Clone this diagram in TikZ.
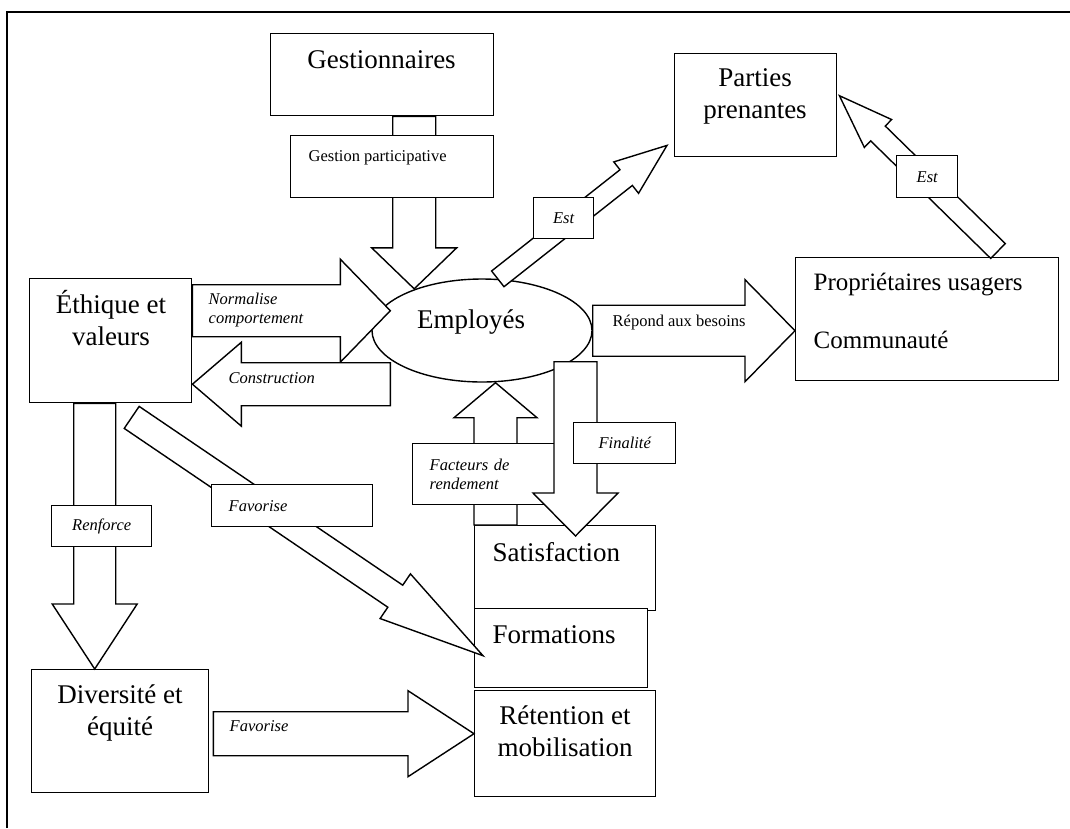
\documentclass[tikz,border=0pt]{standalone}
\usepackage{fontspec}
\setmainfont{Liberation Serif}
\usetikzlibrary{calc,shapes.geometric}

\newcommand{\bigfont}{\fontsize{27}{32}\selectfont}
\newcommand{\propfont}{\fontsize{25}{30}\selectfont}
\newcommand{\tagfont}{\fontsize{16.5}{19}\selectfont}

% block arrow: tail, tip, half shaft, half head, head length
\newcommand{\fatarrow}[5]{%
  \coordinate (tip-base) at ($(#2)!#5pt!(#1)$);
  \draw[body] ($(#1)!#3pt!90:(#2)$) -- ($(tip-base)!#3pt!90:(#2)$) -- ($(tip-base)!#4pt!90:(#2)$) -- (#2)
    -- ($(tip-base)!#4pt!-90:(#2)$) -- ($(tip-base)!#3pt!-90:(#2)$) -- ($(#1)!#3pt!-90:(#2)$) -- cycle;}

\begin{document}
\begin{tikzpicture}[x=1pt,y=-1pt,line width=1.4pt,
    box/.style={draw,fill=white,inner sep=0pt,anchor=north west},
    body/.style={draw,fill=white,line join=miter},
    txt/.style={font=\bigfont,inner sep=0pt,align=center,anchor=base},
    txtl/.style={font=\bigfont,inner sep=0pt,anchor=base west},
    tag/.style={box,font=\tagfont\itshape,align=center},
    tagl/.style={box,font=\tagfont\itshape,align=left,inner xsep=17pt},
    note/.style={font=\tagfont\itshape,inner sep=0pt,align=left,anchor=base west}]

\useasboundingbox (0,0) rectangle (1070,828);
\draw[line width=1.8pt] (7,828) -- (7,12) -- (1070,12);

% main boxes (two-line texts sit on their last baseline)
\node[box,minimum width=223pt,minimum height=82pt] (gest) at (270,33) {};
\node[txt] (gest-t) at (381.5,68) {Gestionnaires};
\node[box,minimum width=162pt,minimum height=103pt] (parties) at (674,53) {};
\node[txt] (parties-t) at (755,118) {Parties\\prenantes};
\node[box,minimum width=162pt,minimum height=124pt] (ethique) at (29,278) {};
\node[txt] (ethique-t) at (111,345) {Éthique et\\valeurs};
\node[box,minimum width=263pt,minimum height=123pt] (proprio) at (795,257) {};
\node[txtl,font=\propfont] (proprio-t) at (813,290) {Propriétaires usagers};
\node[txtl,font=\propfont] (comm-t) at (813,348) {Communauté};
\node[box,minimum width=177pt,minimum height=123pt] (diversite) at (31,669) {};
\node[txt] (diversite-t) at (120,735) {Diversité et\\équité};
\node[box,minimum width=181pt,minimum height=85pt] (satisf) at (474,525) {};
\node[txtl] (satisf-t) at (492,561) {Satisfaction};
\node[box,minimum width=173pt,minimum height=79pt] (formations) at (474,608) {};
\node[txtl] (formations-t) at (492,643) {Formations};
\node[box,minimum width=181pt,minimum height=106pt] (retention) at (474,690) {};
\node[txt] (retention-t) at (565,756) {Rétention et\\mobilisation};

\node[draw,ellipse,inner sep=0pt,minimum width=220pt,minimum height=103pt] (emp) at (482,330.5) {};
\node[txt] (emp-t) at (471,328) {Employés};

% arrows
\coordinate (g-a) at ($(gest.south)+(32,0)$);
\coordinate (g-b) at (g-a |- emp.148);
\fatarrow{g-a}{g-b}{21.5}{42.5}{41}
\coordinate (n-a) at ($(ethique.east)+(0,-30)$);
\coordinate (n-b) at ($(n-a -| emp.west)+(19,0)$);
\fatarrow{n-a}{n-b}{26}{51.5}{50}
\coordinate (c-a) at ($(ethique.east -| emp.west)+(19,43.5)$);
\coordinate (c-b) at (c-a -| ethique.east);
\fatarrow{c-a}{c-b}{21.5}{42}{49}
\coordinate (e1-a) at (emp.73);
\coordinate (e1-b) at ($(parties.south west)+(-7,-12)$);
\fatarrow{e1-a}{e1-b}{10}{20}{52}
\coordinate (e2-a) at ($(proprio.north west)+(203,-6)$);
\coordinate (e2-b) at ($(parties.east)+(2,-9.5)$);
\fatarrow{e2-a}{e2-b}{10.4}{19.5}{54}
\coordinate (r-b) at ($(proprio.west)+(0,11.5)$);
\coordinate (r-a) at (r-b -| emp.east);
\fatarrow{r-a}{r-b}{25.5}{51}{50}
\coordinate (rf-a) at ($(ethique.south)+(-16,0)$);
\coordinate (rf-b) at (rf-a |- diversite.north);
\fatarrow{rf-a}{rf-b}{21}{42.5}{65}
\coordinate (fd-a) at ($(ethique.south)+(21,14)$);
\coordinate (fd-b) at ($(formations.west)+(9,7.5)$);
\fatarrow{fd-a}{fd-b}{13.3}{27}{106}
\coordinate (f2-a) at ($(diversite.east)+(4,2.5)$);
\coordinate (f2-b) at (f2-a -| retention.west);
\fatarrow{f2-a}{f2-b}{22}{43}{66}
\coordinate (fa-a) at ($(satisf.north west)+(21.5,0)$);
\coordinate (fa-b) at (fa-a |- emp.south);
\fatarrow{fa-a}{fa-b}{21.5}{41.5}{35}

% labels on the arrows
\node[box,minimum width=203pt,minimum height=62pt] (gpart) at (290,135) {};
\node[inner sep=0pt,font=\tagfont,anchor=base west] (gpart-t) at (308,161) {Gestion participative};
\node[tag,minimum width=60pt,minimum height=41pt] (est1) at (533,197) {Est};
\node[tag,minimum width=61pt,minimum height=42pt] (est2) at (896,155) {Est};
\node[tag,minimum width=100pt,minimum height=41pt] (renf) at (51,505) {Renforce};
\node[tagl,text width=127pt,minimum height=42pt] (fav1) at (211,484) {Favorise};
\node[tagl,text width=108pt,minimum height=61pt] (fact) at (412,443) {Facteurs de\\rendement};

\coordinate (fi-b) at ($(satisf.north west)+(101.5,11)$);
\coordinate (fi-a) at ($(fi-b |- emp.south)+(0,-21)$);
\fatarrow{fi-a}{fi-b}{21.5}{42.5}{43}
\node[tag,minimum width=102pt,minimum height=41pt] (final) at (573,422) {Finalité};

\node[note] (norm-t) at (208,323) {Normalise\\comportement};
\node[note] (constr-t) at (228,383) {Construction};
\node[note,font=\tagfont\upshape] (repond-t) at (612,326) {Répond aux besoins};
\node[note] (fav2-t) at (229,731) {Favorise};
\end{tikzpicture}
\end{document}
